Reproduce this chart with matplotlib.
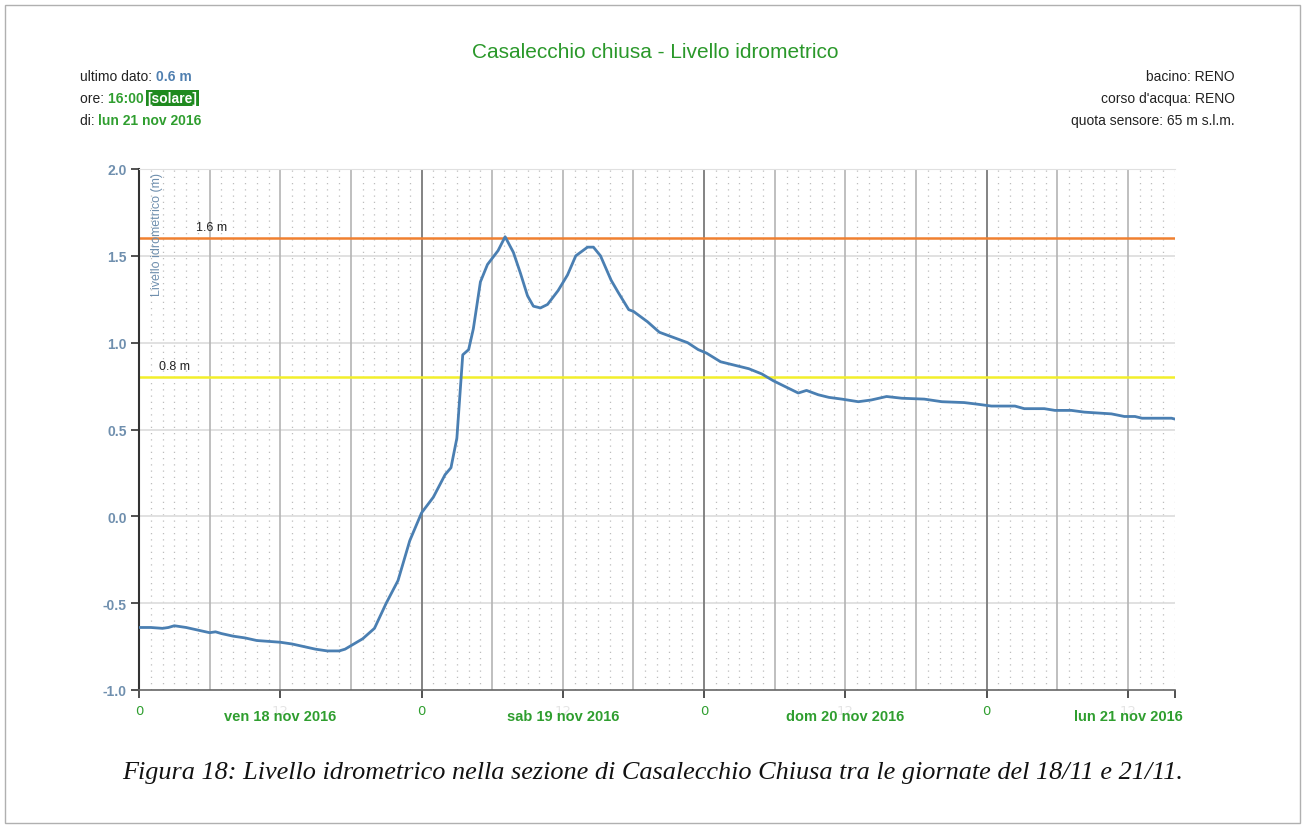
import matplotlib
matplotlib.use("Agg")
import matplotlib.pyplot as plt
from matplotlib.ticker import MultipleLocator, FixedLocator

# ore dall'inizio di ven 18 nov 2016 00:00
hours = [0, 1, 2, 2.5, 3, 4, 5, 6, 6.5, 7, 8, 9, 10, 11, 12, 13, 14, 15, 16, 17,
         17.5, 18, 19, 20, 21, 22, 23, 24, 25, 26, 26.5, 27, 27.5, 28, 28.4, 29,
         29.6, 30.5, 31.1, 31.8, 32.4, 33, 33.5, 34.1, 34.7, 35.6, 36.4, 37.1,
         38.1, 38.6, 39.2, 40.1, 40.7, 41.6, 42, 43.2, 44.2, 45.4, 46.6, 47.5,
         48.2, 49.4, 50.6, 51.8, 52.9, 53.9, 54.8, 56, 56.7, 57.7, 58.6, 59.7,
         61.1, 62.2, 63.5, 64.8, 66.7, 68.2, 70.1, 71.3, 72.4, 74.4, 75.2, 76.9,
         77.8, 79.2, 80.3, 82.6, 83.7, 84.6, 85.2, 87.7, 88]
level = [-0.64, -0.64, -0.645, -0.64, -0.63, -0.64, -0.655, -0.67, -0.665, -0.675,
         -0.69, -0.70, -0.715, -0.72, -0.725, -0.735, -0.75, -0.765, -0.775, -0.775,
         -0.765, -0.745, -0.705, -0.645, -0.50, -0.37, -0.14, 0.02, 0.11, 0.24,
         0.28, 0.45, 0.93, 0.96, 1.08, 1.35, 1.45, 1.53, 1.61, 1.52, 1.40, 1.27,
         1.21, 1.20, 1.22, 1.30, 1.39, 1.50, 1.55, 1.55, 1.50, 1.36, 1.29, 1.19,
         1.18, 1.12, 1.06, 1.03, 1.00, 0.96, 0.94, 0.89, 0.87, 0.85, 0.82, 0.78,
         0.75, 0.71, 0.725, 0.70, 0.685, 0.675, 0.66, 0.67, 0.69, 0.68, 0.675,
         0.66, 0.655, 0.645, 0.635, 0.635, 0.62, 0.62, 0.61, 0.61, 0.60, 0.59,
         0.575, 0.575, 0.565, 0.565, 0.56]

soglie = [1.6, 0.8]
soglie_col = ["#f08030", "#f2ef2a"]
soglie_lab = ["1.6 m", "0.8 m"]
soglie_lab_x = [6.2, 3.0]

day_ticks = [0, 24, 48, 72]
noon_ticks = [12, 36, 60, 84]
day_names = ["ven 18 nov 2016", "sab 19 nov 2016", "dom 20 nov 2016", "lun 21 nov 2016"]

green = "#2f9e2f"
bluegray = "#6f8fae"

fig = plt.figure(figsize=(13.06, 8.29), dpi=100)
fig.patch.set_facecolor("white")
ax = fig.add_axes([139/1306, 1-691/829, (1175-139)/1306, (691-170)/829])

# griglia
for h in range(0, 89):
    if h % 6 == 0:
        continue
    ax.axvline(h, color="#bdbdbd", lw=0.9, ls=(0, (1, 4)), zorder=0)
for h in range(6, 89, 6):
    if h % 24 == 0:
        ax.axvline(h, color="#7a7a7a", lw=1.3, zorder=1)
    else:
        ax.axvline(h, color="#b4b4b4", lw=1.2, zorder=1)
for v in [-0.5, 0.0, 0.5, 1.0, 1.5]:
    ax.axhline(v, color="#dcdcdc", lw=1.2, zorder=0)

for s, c, lab, lx in zip(soglie, soglie_col, soglie_lab, soglie_lab_x):
    ax.axhline(s, color=c, lw=1.8, zorder=2)
    ax.text(lx, s + 0.03, lab, fontsize=9, color="#222222", ha="center", va="bottom",
            family=["Liberation Sans", "DejaVu Sans"])

ax.plot(hours, level, color="#4a7fb2", lw=2.0, zorder=3, solid_joinstyle="round")

ax.set_xlim(0, 88)
ax.set_ylim(-1.0, 2.0)
ax.yaxis.set_major_locator(MultipleLocator(0.5))
ax.set_yticklabels([f"{v:.1f}" for v in ax.get_yticks()])
ax.tick_params(axis="y", length=6, width=1.2, color="#333333", labelcolor=bluegray,
               labelsize=10, pad=3)
for t in ax.get_yticklabels():
    t.set_fontweight("bold")
    t.set_family(["Liberation Sans", "DejaVu Sans"])

ax.xaxis.set_major_locator(FixedLocator(day_ticks + [88]))
ax.set_xticklabels(["0", "0", "0", "0", ""])
ax.xaxis.set_minor_locator(FixedLocator(noon_ticks))
ax.set_xticklabels(["12"] * 4, minor=True)
ax.tick_params(axis="x", which="both", length=6, width=1.2, color="#333333",
               labelsize=9.5, pad=4)
ax.tick_params(axis="x", which="major", labelcolor=green)
ax.tick_params(axis="x", which="minor", labelcolor="#e4e4e4")

for d, name in zip(noon_ticks, day_names):
    ax.text(d, -0.05, name, transform=ax.get_xaxis_transform(), ha="center", va="center",
            color=green, fontsize=10.5, fontweight="bold",
            family=["Liberation Sans", "DejaVu Sans"])

ax.spines["left"].set_color("#333333")
ax.spines["left"].set_linewidth(1.5)
ax.spines["bottom"].set_color("#666666")
ax.spines["bottom"].set_linewidth(1.2)
ax.spines["top"].set_color("#e0e0e0")
ax.spines["right"].set_visible(False)

ax.text(0.012, 0.995, "Livello idrometrico (m)", transform=ax.transAxes, rotation=90,
        ha="left", va="top", color=bluegray, fontsize=9,
        family=["Liberation Sans", "DejaVu Sans"])

# titolo e intestazioni
fig.text(655/1306, 1-52/829, "Casalecchio chiusa - Livello idrometrico", ha="center",
         va="center", color="#2a982a", fontsize=15,
         family=["Liberation Sans", "DejaVu Sans"])

hfont = ["Liberation Sans", "DejaVu Sans"]
rows = [
    [("ultimo dato: ", "#222222", "normal", None), ("0.6 m", "#4f7fb0", "bold", None)],
    [("ore: ", "#222222", "normal", None), ("16:00 ", green, "bold", None),
     ("[solare]", "white", "bold", "#1f8a1f")],
    [("di: ", "#222222", "normal", None), ("lun 21 nov 2016", green, "bold", None)],
]
row_y = [77, 99, 121]
for parts, y in zip(rows, row_y):
    prev = None
    for txt, col, wt, bg in parts:
        kw = dict(color=col, fontweight=wt, fontsize=10, family=hfont, va="center")
        if bg is not None:
            kw["bbox"] = dict(facecolor=bg, edgecolor="none", pad=1)
        if prev is None:
            prev = fig.text(80/1306, 1-y/829, txt, ha="left", **kw)
        else:
            prev = ax.annotate(txt, xy=(1, 0.5), xycoords=prev, ha="left",
                               annotation_clip=False, **kw)

right_lines = ["bacino: RENO", "corso d'acqua: RENO", "quota sensore: 65 m s.l.m."]
for txt, y in zip(right_lines, row_y):
    fig.text(1235/1306, 1-y/829, txt, ha="right", va="center", color="#222222",
             fontsize=10, family=hfont)

fig.text(653/1306, 1-773/829,
         "Figura 18: Livello idrometrico nella sezione di Casalecchio Chiusa tra le giornate del 18/11 e 21/11.",
         ha="center", va="center", fontsize=18.9, style="italic", color="#111111",
         family=["Liberation Serif", "DejaVu Serif"])

# cornice della pagina
fig.add_artist(plt.Rectangle((5/1306, 5/829), 1295/1306, 818/829, transform=fig.transFigure,
                             fill=False, edgecolor="#b0b0b0", lw=1.0))

fig.savefig("out.png", dpi=100)
